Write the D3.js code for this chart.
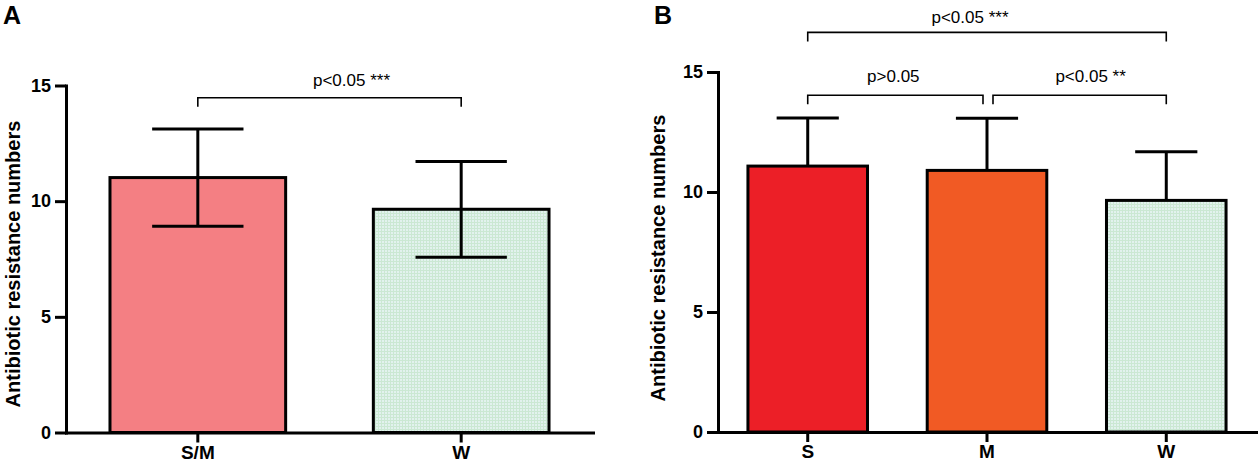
<!DOCTYPE html>
<html>
<head>
<meta charset="utf-8">
<script src="https://cdn.jsdelivr.net/npm/d3@7"></script>
<style>
body { margin: 0; background: #fff; }
svg { font-family: "Liberation Sans", Arial, sans-serif; }
.axis path, .axis line { stroke: #000; stroke-width: 3; }
.axis text { font-size: 18px; font-weight: bold; fill: #000; }
.xaxis text { font-size: 19px; }
</style>
</head>
<body>
<svg id="chart" width="1260" height="464"></svg>
<script>
// values
const yTicks = [0, 5, 10, 15]

const groupsA = ["S/M", "W"]
const meansA = [11.02, 9.65]
const sdA = [2.1, 2.07]

const groupsB = ["S", "M", "W"]
const meansB = [11.08, 10.9, 9.65]
const sdB = [2.0, 2.17, 2.03]

// significance brackets
const compPairsA = [["S/M", "W"]]
const compTextA = ["p<0.05 ***"]
const compLevelA = [14.47]

const compPairsB = [["S", "M"], ["M", "W"], ["S", "W"]]
const compTextB = ["p>0.05", "p<0.05 **", "p<0.05 ***"]
const compLevelB = [14.03, 14.03, 16.65]

const yTitle = "Antibiotic resistance numbers"

let svg = d3.select("#chart")

// light mint grid fill used for W
let pat = svg.append("defs").append("pattern")
    .attr("id", "mint")
    .attr("width", 3).attr("height", 3)
    .attr("patternUnits", "userSpaceOnUse")
pat.append("rect").attr("width", 3).attr("height", 3).attr("fill", "#e2f2ee")
pat.append("path").attr("d", "M0,0.5H3M0.5,0V3").attr("stroke", "#cbe8d3").attr("stroke-width", 1)

function drawPanel(p){
    let x = d3.scaleBand()
        .domain(p.groups)
        .range([p.left, p.right])
        .paddingInner(0.333)
        .paddingOuter(0.167)

    let y = d3.scaleLinear()
        .domain([0, 15])
        .range([p.bottom, p.top])

    let g = svg.append("g")
    let bw = x.bandwidth()
    let cx = d => x(d) + bw / 2

    // bars
    g.selectAll("rect.bar")
        .data(p.groups)
        .join("rect")
        .attr("class", "bar")
        .attr("x", d => x(d))
        .attr("y", (d, i) => y(p.means[i]))
        .attr("width", bw)
        .attr("height", (d, i) => y(0) - y(p.means[i]))
        .attr("fill", (d, i) => p.colors[i])
        .attr("stroke", "#000")
        .attr("stroke-width", 3)

    // error bars (A shows both directions, B only upward)
    let cap = bw * 0.26
    p.groups.forEach((d, i) => {
        let top = y(p.means[i] + p.sd[i])
        let low = p.both ? y(p.means[i] - p.sd[i]) : y(p.means[i])
        g.append("line").attr("x1", cx(d)).attr("x2", cx(d)).attr("y1", top).attr("y2", low)
            .attr("stroke", "#000").attr("stroke-width", 3)
        g.append("line").attr("x1", cx(d) - cap).attr("x2", cx(d) + cap).attr("y1", top).attr("y2", top)
            .attr("stroke", "#000").attr("stroke-width", 3)
        if (p.both){
            g.append("line").attr("x1", cx(d) - cap).attr("x2", cx(d) + cap).attr("y1", low).attr("y2", low)
                .attr("stroke", "#000").attr("stroke-width", 3)
        }
    })

    // axes
    g.append("g")
        .attr("class", "axis")
        .attr("transform", `translate(${p.left},0)`)
        .call(d3.axisLeft(y).tickValues(yTicks).tickSize(11).tickSizeOuter(0).tickPadding(4))

    g.append("g")
        .attr("class", "axis xaxis")
        .attr("transform", `translate(0,${y(0)})`)
        .call(d3.axisBottom(x).tickSize(10).tickSizeOuter(0).tickPadding(3))

    g.selectAll(".axis path").attr("stroke-linecap", "square")

    // brackets
    p.pairs.forEach((pr, i) => {
        let x1 = cx(pr[0]), x2 = cx(pr[1])
        // pull in ends where two brackets meet on the same level
        p.pairs.forEach((q, j) => {
            if (j === i || p.levels[j] !== p.levels[i]) return
            if (q[0] === pr[1]) x2 -= 4
            if (q[1] === pr[0]) x1 += 6
        })
        let ly = y(p.levels[i])
        g.append("path")
            .attr("d", `M${x1},${ly + 9}V${ly}H${x2}V${ly + 9}`)
            .attr("fill", "none")
            .attr("stroke", "#000")
            .attr("stroke-width", 1.6)
        g.append("text")
            .attr("x", (x1 + x2) / 2 + p.textDx[i])
            .attr("y", ly - p.textGap[i])
            .attr("text-anchor", "middle")
            .style("font-size", "17px")
            .text(p.texts[i])
    })

    g.append("text")
        .attr("transform", `translate(${p.titleX},${(p.top + p.bottom) / 2 + p.titleDy}) rotate(-90)`)
        .attr("text-anchor", "middle")
        .style("font-size", "20px")
        .style("font-weight", "bold")
        .text(yTitle)

    g.append("text")
        .attr("x", p.letterX)
        .attr("y", 24)
        .style("font-size", "25px")
        .style("font-weight", "bold")
        .text(p.letter)
}

drawPanel({
    letter: "A", letterX: 3,
    groups: groupsA, means: meansA, sd: sdA, both: true,
    colors: ["#f47f83", "url(#mint)"],
    pairs: compPairsA, texts: compTextA, levels: compLevelA,
    textDx: [22], textGap: [11.7],
    left: 66, right: 593, top: 85.5, bottom: 432.5,
    titleX: 20, titleDy: 5
})

drawPanel({
    letter: "B", letterX: 654,
    groups: groupsB, means: meansB, sd: sdB, both: false,
    colors: ["#ec1f27", "#f15a24", "url(#mint)"],
    pairs: compPairsB, texts: compTextB, levels: compLevelB,
    textDx: [-2, 11, -17], textGap: [13.6, 13.6, 9],
    left: 718, right: 1256, top: 72, bottom: 432,
    titleX: 665, titleDy: 6
})
</script>
</body>
</html>
